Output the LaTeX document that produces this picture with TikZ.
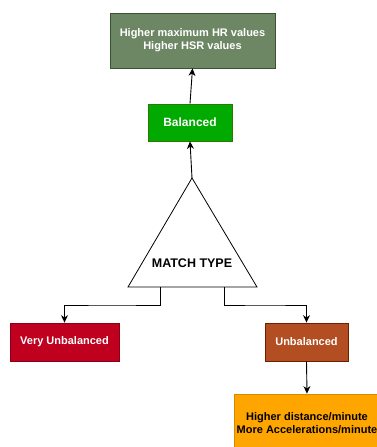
\documentclass[tikz,border=0pt]{standalone}
\usepackage{fontspec}
\setmainfont{Liberation Sans}
\usetikzlibrary{arrows.meta, positioning}
\definecolor{topgreen}{HTML}{6D8764}
\definecolor{topgreenline}{HTML}{3A5431}
\definecolor{balgreen}{HTML}{00AA00}
\definecolor{balgreenline}{HTML}{2D7600}
\definecolor{vured}{HTML}{BF001F}
\definecolor{vuredline}{HTML}{8B0014}
\definecolor{unbrown}{HTML}{B34E22}
\definecolor{unbrownline}{HTML}{6D1F00}
\definecolor{resorange}{HTML}{FFA500}
\definecolor{resorangeline}{HTML}{D68A00}
\tikzset{
  box/.style={rectangle, inner sep=0pt, align=center, font=\fontsize{11}{13}\selectfont\bfseries, line width=0.8pt},
  link/.style={line width=0.9pt, -{Stealth[length=7.5pt,width=7pt]}}
}

\begin{document}
\begin{tikzpicture}[x=1pt, y=-1pt]
\clip (0,0) rectangle (377,447);
\useasboundingbox (0,0) rectangle (377,447);
% outcome boxes
\node[box, fill=topgreen, draw=topgreenline, text=white, minimum width=165pt, minimum height=55pt] (high) at (192.5,40.5) {Higher maximum HR values\\Higher HSR values};
\node[box, fill=balgreen, draw=balgreenline, text=white, minimum width=84pt, minimum height=37pt, font=\fontsize{12}{14}\selectfont\bfseries] (bal) at (190,122.5) {Balanced};
\node[box, fill=vured, draw=vuredline, text=white, minimum width=109pt, minimum height=38pt] (vunbal) at (64.5,342) {Very Unbalanced};
\node[box, fill=unbrown, draw=unbrownline, text=white, minimum width=83pt, minimum height=38pt] (unbal) at (306.5,342) {Unbalanced};
\node[box, fill=resorange, draw=resorangeline, text=black, minimum width=146pt, minimum height=58pt] (dist) at (307,423) {Higher distance/minute\\More Accelerations/minute};
% match type triangle
\coordinate (apex) at (192,178);
\coordinate (baseL) at (128,287);
\coordinate (baseR) at (257,287);
\draw[line width=0.8pt] (apex) -- (baseL) -- (baseR) -- cycle;
\node[box, text=black, font=\fontsize{12.5}{14}\selectfont\bfseries] (mtype) at (192,263) {MATCH TYPE};
\coordinate (legL) at (160,287);
\coordinate (legR) at (224,287);
% connectors
\draw[link] (apex) -- (bal.south);
\draw[link] (bal.north) -- (high.south);
\draw[link] (legL) |- (112,305) -| (vunbal.north);
\draw[link] (legR) |- (265,305) -| (unbal.north);
\draw[link] (unbal.south) -- (dist.north);
\end{tikzpicture}
\end{document}
